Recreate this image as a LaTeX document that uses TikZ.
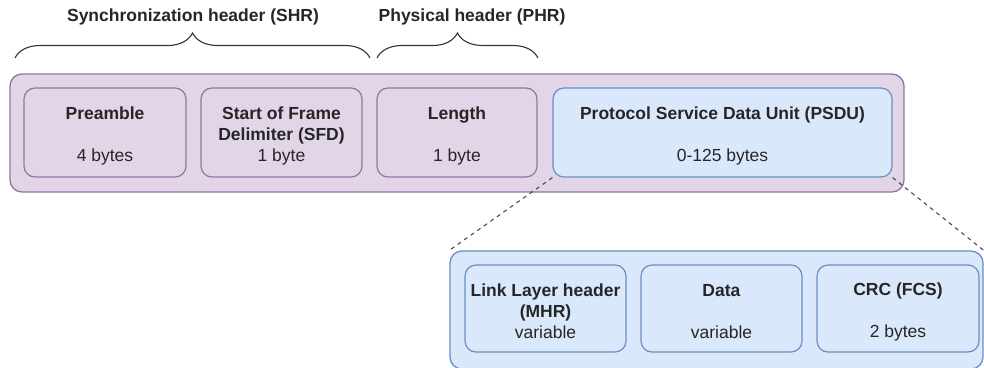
\documentclass[tikz,border=0pt]{standalone}
\usepackage{fontspec}
\setmainfont{Liberation Sans}
\usetikzlibrary{decorations.pathreplacing}
\definecolor{pfill}{HTML}{E1D5E7}
\definecolor{pline}{HTML}{9673A6}
\definecolor{bfill}{HTML}{DAE8FC}
\definecolor{bline}{HTML}{6C8EBF}
\newcommand{\dn}{\rule{0pt}{19pt}}
\tikzset{
  txt/.style={font=\fontsize{17.5}{21}\selectfont, align=center, text=black!85},
  pframe/.style={draw=pline, fill=pfill, line width=1.3pt, rounded corners=12pt, inner sep=0pt},
  bframe/.style={draw=bline, fill=bfill, line width=1.3pt, rounded corners=12pt, inner sep=0pt},
  pbox/.style={txt, draw=pline, fill=pfill, line width=1.2pt, rounded corners=11pt, inner sep=0pt, minimum height=89pt},
  bbox/.style={txt, draw=bline, fill=bfill, line width=1.2pt, rounded corners=11pt, inner sep=0pt, minimum height=89pt},
  zoomline/.style={draw=black!70, line width=1.1pt, dash pattern=on 4pt off 4pt},
  bracestyle/.style={draw=black!80, line width=1.1pt, decorate, decoration={brace, amplitude=25pt, aspect=0.5}},
  lbl/.style={txt, font=\fontsize{17.5}{21}\selectfont\bfseries}
}
\begin{document}
\begin{tikzpicture}[x=1pt,y=-1pt]
\useasboundingbox (0,0) rectangle (984,367);
% top frame
\node[pframe, minimum width=894pt, minimum height=118pt] (frame1) at (457,133) {};
\node[pbox, minimum width=162pt] (pre) at (105,132.5) {\dn\textbf{Preamble}\\[21pt]4 bytes};
\node[pbox, minimum width=161pt] (sfd) at (281.5,132.5) {\dn\textbf{Start of Frame}\\\textbf{Delimiter (SFD)}\\1 byte};
\node[pbox, minimum width=160pt] (len) at (457,132.5) {\dn\textbf{Length}\\[21pt]1 byte};
\node[bbox, minimum width=339pt] (psdu) at (722.5,132.5) {\dn\textbf{Protocol Service Data Unit (PSDU)}\\[21pt]0-125 bytes};
% bottom frame
\node[bframe, minimum width=533pt, minimum height=118pt] (frame2) at (716.5,310) {};
\node[bbox, minimum width=161pt, minimum height=87pt] (mhr) at (545.5,308.5) {\dn\textbf{Link Layer header}\\\textbf{(MHR)}\\variable};
\node[bbox, minimum width=161pt, minimum height=87pt] (data) at (721.5,308.5) {\dn\textbf{Data}\\[21pt]variable};
\node[bbox, minimum width=162pt, minimum height=87pt] (crc) at (898,308.5) {\dn\textbf{CRC (FCS)}\\[21pt]2 bytes};
% zoom lines
\draw[zoomline] (psdu.south west) -- (frame2.north west);
\draw[zoomline] (psdu.south east) -- (frame2.north east);
% braces
\coordinate (shrA) at (15,58);
\coordinate (shrB) at (370,58);
\coordinate (phrA) at (377,58);
\coordinate (phrB) at (538,58);
\draw[bracestyle] (shrA) -- (shrB);
\draw[bracestyle] (phrA) -- (phrB);
\node[lbl] (shr) at (193,17) {Synchronization header (SHR)};
\node[lbl] (phr) at (472,17) {Physical header (PHR)};
\end{tikzpicture}
\end{document}
